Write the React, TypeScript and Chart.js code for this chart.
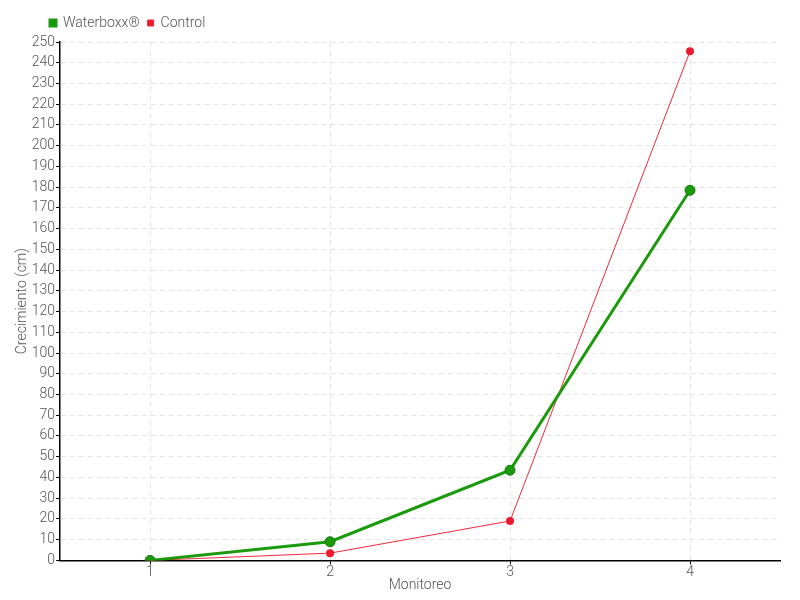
import React, { useEffect, useRef } from "react";
import { Chart, registerables } from "chart.js";

Chart.register(...registerables);

const categories = ["1", "2", "3", "4"];
const waterboxx = [0, 9, 43.5, 178.5];
const control = [0, 3.5, 19, 245.5];

const shiftLegend = {
  id: "shiftLegend",
  beforeDraw(chart: any) {
    if (chart.legend) {
      chart.legend.left = 42;
      chart.legend.top -= 2;
    }
  },
};

export default function App() {
  const ref = useRef<HTMLCanvasElement | null>(null);
  useEffect(() => {
    if (!ref.current) return;
    const font = "Roboto, sans-serif";
    const chart = new Chart(ref.current, {
      type: "line",
      data: {
        labels: categories,
        datasets: [
          {
            label: "Waterboxx®",
            data: waterboxx,
            borderColor: "#1a9a0c",
            backgroundColor: "#1a9a0c",
            borderWidth: 3,
            pointRadius: 5,
            pointBorderWidth: 1,
            pointBorderColor: "#137a08",
            pointBackgroundColor: "#1a9a0c",
            tension: 0,
          },
          {
            label: "Control",
            data: control,
            borderColor: "#f2283c",
            backgroundColor: "#ec1c2e",
            borderWidth: 1,
            pointRadius: 4,
            pointBorderWidth: 0,
            pointBackgroundColor: "#ec1c2e",
            tension: 0,
          },
        ],
      },
      plugins: [shiftLegend],
      options: {
        animation: false,
        responsive: false,
        layout: { padding: { top: 10, right: 20, left: 14, bottom: 6 } },
        plugins: {
          legend: {
            align: "start",
            labels: {
              boxWidth: 6,
              boxHeight: 6,
              padding: 8,
              color: "#555",
              font: { family: font, size: 14, weight: "300" },
            },
          },
          tooltip: { enabled: false },
        },
        scales: {
          x: {
            offset: true,
            grid: {
              offset: false,
              color: "#e4e4e4",
              tickColor: "#000",
              tickBorderDash: [],
              tickLength: 4,
            },
            border: { color: "#000", width: 1.5, dash: [5, 4] },
            ticks: { color: "#555", font: { family: font, size: 14, weight: "300" }, padding: 0 },
            title: {
              display: true,
              text: "Monitoreo",
              color: "#555",
              font: { family: font, size: 14, weight: "300" },
              padding: { top: -4, bottom: 0 },
            },
          },
          y: {
            min: 0,
            max: 250,
            ticks: {
              stepSize: 10,
              color: "#555",
              font: { family: font, size: 14, weight: "300" },
              padding: 1,
            },
            grid: {
              color: "#e4e4e4",
              tickColor: "#000",
              tickLength: 4,
              tickBorderDash: [],
            },
            border: { color: "#000", width: 1.5, dash: [5, 4] },
            title: {
              display: true,
              text: "Crecimiento (cm)",
              color: "#555",
              font: { family: font, size: 14, weight: "300" },
              padding: { top: 0, bottom: 0 },
            },
          },
        },
      },
    });
    return () => chart.destroy();
  }, []);
  return (
    <div style={{ position: "fixed", left: 0, top: 0, width: 800, height: 600, background: "#fff" }}>
      <canvas ref={ref} width={800} height={600} />
    </div>
  );
}
